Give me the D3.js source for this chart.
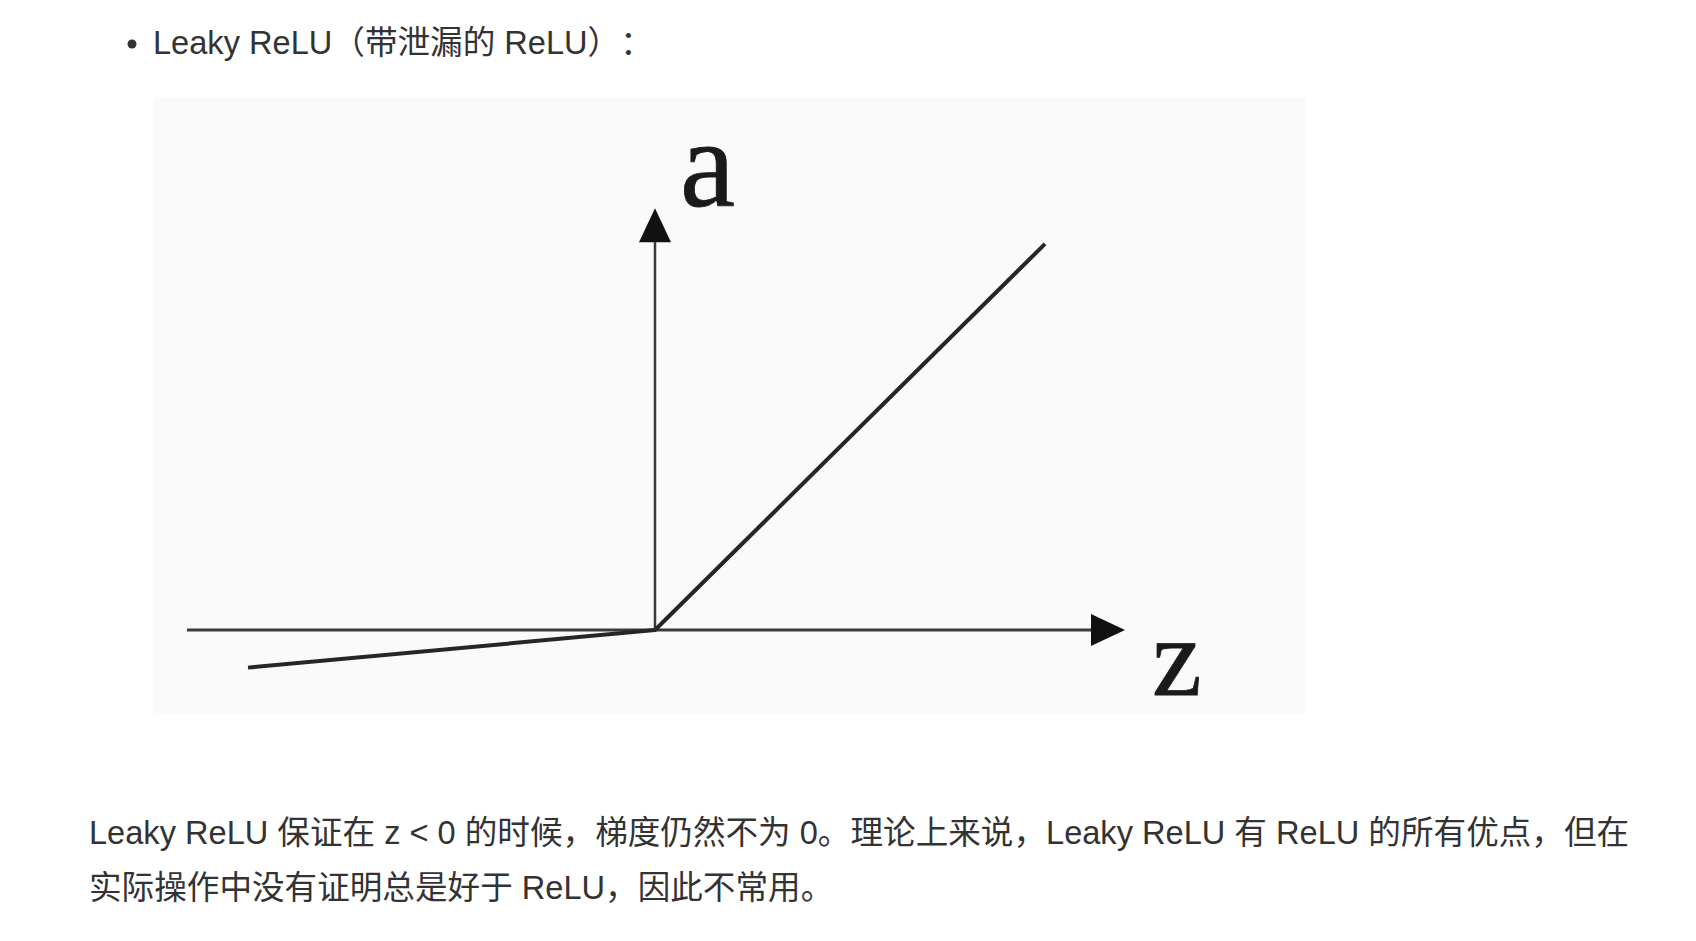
<!DOCTYPE html>
<html>
<head>
<meta charset="utf-8">
<script src="https://cdn.jsdelivr.net/npm/d3@7"></script>
<style>
  html, body { margin: 0; padding: 0; background: #ffffff; }
  svg { display: block; }
  .txt { font-family: "Liberation Sans", Arial, sans-serif; font-size: 32.6px; fill: #333333; text-spacing-trim: space-all; }
  .cjk { font-family: "Noto Sans CJK SC", "Noto Sans CJK JP", sans-serif; }
  .lbl { font-family: "Liberation Serif", "DejaVu Serif", serif; fill: #1a1a1a; stroke: #1a1a1a; stroke-width: 0.8; }
</style>
</head>
<body>
<svg id="chart" width="1696" height="941"></svg>
<script>
// ---- data ----
const headingText = "Leaky ReLU（带泄漏的 ReLU）：";
const paragraphLines = [
  "Leaky ReLU 保证在 z < 0 的时候，梯度仍然不为 0。理论上来说，Leaky ReLU 有 ReLU 的所有优点，但在",
  "实际操作中没有证明总是好于 ReLU，因此不常用。"
];
const axisLabels = ["z", "a"];
const xAxisExtent = [-4.68, 4.70];   // z range of horizontal axis (incl. arrow tip)
const yAxisExtent = [0, 4.26];       // a range of vertical axis (incl. arrow tip)
const leakyZ = [-4.07, 0, 3.9];
const leakyA = [-0.38, 0, 3.9];

// ---- layout ----
const svg = d3.select("#chart");
const origin = { x: 655, y: 630 };
const unitX = 100, unitY = 99;

const x = d3.scaleLinear().domain([0, 1]).range([origin.x, origin.x + unitX]);
const y = d3.scaleLinear().domain([0, 1]).range([origin.y, origin.y - unitY]);

// split text into latin / cjk runs, each cjk char in its own tspan (full-em width)
const cjkRe = /[\u3000-\u303f\u4e00-\u9fff\uff00-\uffef]/;
function writeText(sel, str, x0, y0) {
  const t = sel.append("text").attr("class", "txt").attr("x", x0).attr("y", y0);
  const runs = [];
  for (const ch of str) {
    const isC = cjkRe.test(ch);
    if (runs.length && runs[runs.length - 1].c === isC) runs[runs.length - 1].s += ch;
    else runs.push({ c: isC, s: ch });
  }
  runs.forEach(r => {
    if (r.c) {
      for (const ch of r.s) t.append("tspan").attr("class", "cjk").text(ch);
    } else {
      t.append("tspan").text(r.s);
    }
  });
  return t;
}

// heading
svg.append("circle").attr("cx", 132).attr("cy", 44).attr("r", 4.5).attr("fill", "#333");
writeText(svg, headingText, 153, 54);

// figure background
svg.append("rect").attr("x", 153).attr("y", 97).attr("width", 1152).attr("height", 616)
  .attr("fill", "#fafafa");

const g = svg.append("g");

// arrow geometry (pixels)
const arrowLen = 34, arrowHalf = 16;

// horizontal axis
const xTip = x(xAxisExtent[1]);
g.append("line")
  .attr("x1", x(xAxisExtent[0])).attr("y1", y(0))
  .attr("x2", xTip - arrowLen + 2).attr("y2", y(0))
  .attr("stroke", "#3a3a3a").attr("stroke-width", 3);
g.append("path")
  .attr("d", `M${xTip},${y(0)} L${xTip - arrowLen},${y(0) - arrowHalf} L${xTip - arrowLen},${y(0) + arrowHalf} Z`)
  .attr("fill", "#111");

// vertical axis
const yTip = y(yAxisExtent[1]);
g.append("line")
  .attr("x1", x(0)).attr("y1", y(yAxisExtent[0]))
  .attr("x2", x(0)).attr("y2", yTip + arrowLen - 2)
  .attr("stroke", "#3a3a3a").attr("stroke-width", 2.5);
g.append("path")
  .attr("d", `M${x(0)},${yTip} L${x(0) - arrowHalf},${yTip + arrowLen} L${x(0) + arrowHalf},${yTip + arrowLen} Z`)
  .attr("fill", "#111");

// Leaky ReLU line
const pts = leakyZ.map((z, i) => [z, leakyA[i]]);
g.append("path")
  .datum(pts)
  .attr("d", d3.line().x(d => x(d[0])).y(d => y(d[1])))
  .attr("fill", "none").attr("stroke", "#262626").attr("stroke-width", 4)
  .attr("stroke-linejoin", "round");

// axis labels
g.append("text").attr("class", "lbl").attr("x", 1152).attr("y", 695)
  .attr("font-size", 112).text(axisLabels[0]);
g.append("text").attr("class", "lbl").attr("x", 680).attr("y", 206)
  .attr("font-size", 124).text(axisLabels[1]);

// paragraph
paragraphLines.forEach((line, i) => {
  writeText(svg, line, 89, 844 + i * 55);
});
</script>
</body>
</html>
